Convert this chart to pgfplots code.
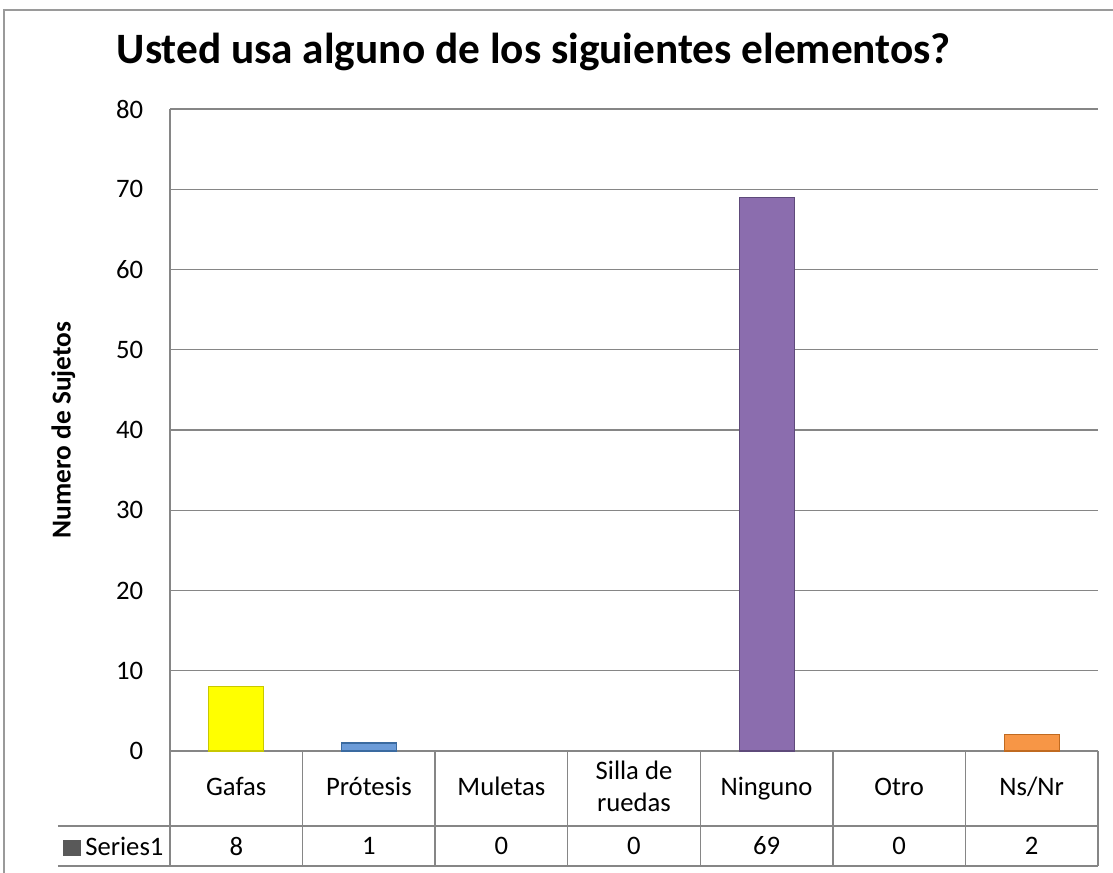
\documentclass[border=0pt]{standalone}
\usepackage{pgfplots}
\pgfplotsset{compat=1.18}
\usepackage{fontspec}
\setmainfont{Carlito}
\definecolor{gridgray}{HTML}{868686}
\definecolor{framegray}{HTML}{9A9A9A}
\definecolor{yfill}{HTML}{FFFF00}
\definecolor{ydraw}{HTML}{C8C800}
\definecolor{bfill}{HTML}{6B9BD8}
\definecolor{bdraw}{HTML}{3A6AA0}
\definecolor{pfill}{HTML}{8B6DAE}
\definecolor{pdraw}{HTML}{5E4A7A}
\definecolor{ofill}{HTML}{F79646}
\definecolor{odraw}{HTML}{C06A20}
\newcommand{\tf}{\fontsize{20}{24}\selectfont}
\begin{document}
\begin{tikzpicture}
\path[use as bounding box] (0,0) rectangle (834.75pt,654.75pt);
\begin{axis}[
  at={(127.5pt,91.5pt)}, anchor=south west,
  scale only axis, width=696pt, height=481.5pt,
  xmin=-0.5, xmax=6.5, ymin=0, ymax=80,
  ytick={0,10,...,80},
  xtick={0,...,6},
  xticklabels={\strut Gafas,\strut Prótesis,\strut Muletas,{\strut Silla de\\\strut ruedas},\strut Ninguno,\strut Otro,\strut Ns/Nr},
  xticklabel style={anchor=center, yshift=-28.5pt, align=center, inner sep=0pt},
  yticklabel style={anchor=east, inner sep=0pt, xshift=-20pt},
  major tick length=0pt,
  ymajorgrids, grid style={gridgray, line width=1.1pt},
  axis lines*=left, axis line style={gridgray, line width=1.1pt},
  clip=false,
  ybar, bar width=41.25pt, bar shift=0pt,
  tick label style={font=\tf, black},
  /pgf/number format/assume math mode=true,
  title={Usted usa alguno de los siguientes elementos?},
  title style={font=\fontsize{32.5}{38}\selectfont\bfseries, at={(axis description cs:0.392,1.058)}, anchor=base},
  ylabel={Numero de Sujetos},
  ylabel style={font=\fontsize{20.5}{24}\selectfont\bfseries, at={(axis description cs:-0.115,0.5)}, anchor=center},
]
\addplot[fill=yfill, draw=ydraw, line width=0.8pt] coordinates {(0,8)};
\addplot[fill=bfill, draw=bdraw, line width=0.8pt] coordinates {(1,1)};
\addplot[draw=none, fill=none] coordinates {(2,0) (3,0) (5,0)};
\addplot[fill=pfill, draw=pdraw, line width=0.8pt] coordinates {(4,69)};
\addplot[fill=ofill, draw=odraw, line width=0.8pt] coordinates {(6,2)};
% data table
\pgfplotsinvokeforeach{0,...,7}{
  \draw[gridgray, line width=1.1pt] (axis cs:#1-0.5,0) -- (axis cs:#1-0.5,-14.33);
}
\draw[gridgray, line width=1.1pt] (axis cs:-1.345,-9.346) -- (axis cs:6.5,-9.346);
\draw[gridgray, line width=1.1pt] (axis cs:-1.345,-14.33) -- (axis cs:6.5,-14.33);
\fill[black!65] (axis cs:-1.307,-11.09) rectangle (axis cs:-1.171,-13.08);
\node[anchor=west, inner sep=0pt, font=\tf] at (axis cs:-1.141,-11.84) {Series1};
\node[font=\tf] at (axis cs:0,-11.84) {8};
\node[font=\tf] at (axis cs:1,-11.84) {1};
\node[font=\tf] at (axis cs:2,-11.84) {0};
\node[font=\tf] at (axis cs:3,-11.84) {0};
\node[font=\tf] at (axis cs:4,-11.84) {69};
\node[font=\tf] at (axis cs:5,-11.84) {0};
\node[font=\tf] at (axis cs:6,-11.84) {2};
\end{axis}
\draw[framegray, line width=1pt] (3pt,0) -- (3pt,647.25pt) -- (834.75pt,647.25pt);
\end{tikzpicture}
\end{document}
